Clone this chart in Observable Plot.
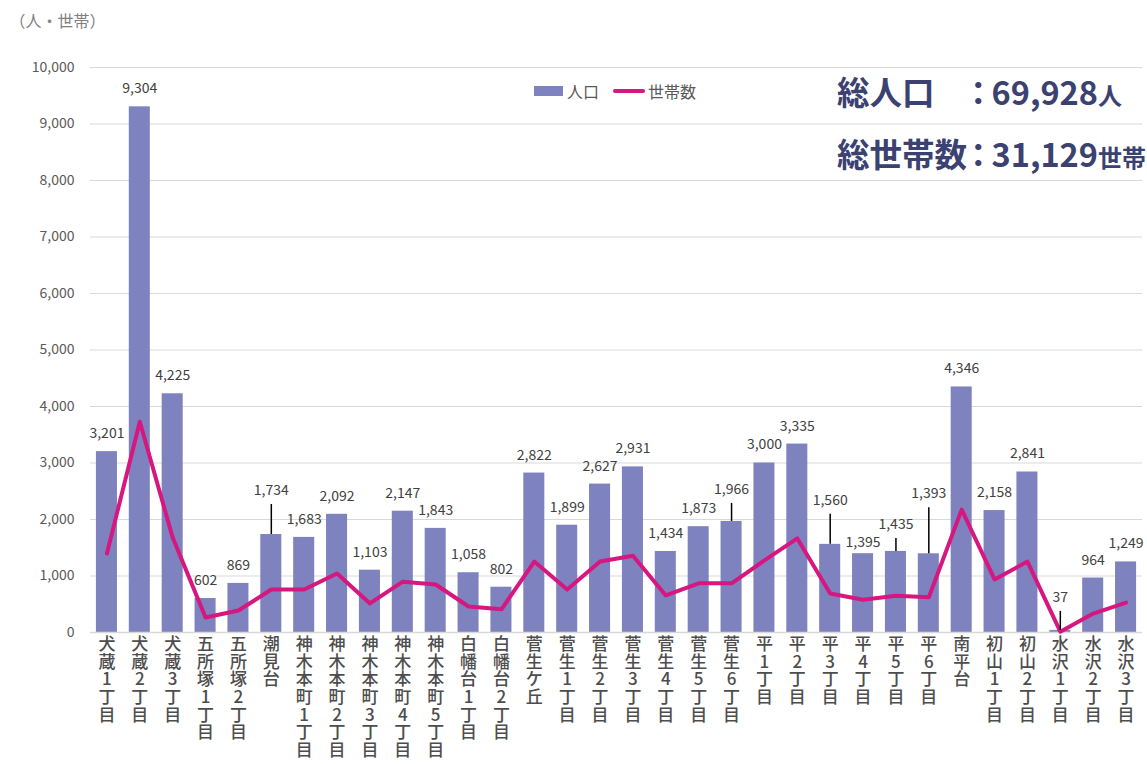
<!DOCTYPE html>
<html>
<head>
<meta charset="utf-8">
<script src="https://cdn.jsdelivr.net/npm/d3@7"></script>
<script src="https://cdn.jsdelivr.net/npm/@observablehq/plot@0.6"></script>
<style>
  html, body { margin: 0; padding: 0; background: #fff; }
  #wrap { position: relative; width: 1147px; height: 764px; overflow: hidden; font-family: "Noto Sans CJK JP", "Noto Sans", sans-serif; }
  #legend { position: absolute; left: 534px; top: 79px; display: flex; align-items: center; font-size: 16px; color: #595959; }
  #legend .sw { display: inline-block; }
  #totals { position: absolute; left: 837px; top: 62px; color: #3b4170; font-weight: bold; }
  #totals div { font-size: 32.5px; line-height: 58px; white-space: nowrap; }
  #totals small { font-size: 24px; }
  #totals .colon { display: inline-block; margin-left: -5px; margin-right: -3px; }
</style>
</head>
<body>
<div id="wrap">
  <div id="chart"></div>
  <div id="legend">
    <span class="sw" style="width:29px;height:10px;background:#7e83bf;margin-right:4px"></span><span>人口</span>
    <span class="sw" style="width:32px;height:4px;background:#d6177f;border-radius:2px;margin-left:14px;margin-right:3px"></span><span>世帯数</span>
  </div>
  <div id="totals">
    <div>総人口　<span class="colon">：</span>69,928<small>人</small></div>
    <div>総世帯数<span class="colon">：</span>31,129<small>世帯</small></div>
  </div>
</div>
<script>
const areas = ["犬蔵1丁目","犬蔵2丁目","犬蔵3丁目","五所塚1丁目","五所塚2丁目","潮見台","神木本町1丁目","神木本町2丁目","神木本町3丁目","神木本町4丁目","神木本町5丁目","白幡台1丁目","白幡台2丁目","菅生ケ丘","菅生1丁目","菅生2丁目","菅生3丁目","菅生4丁目","菅生5丁目","菅生6丁目","平1丁目","平2丁目","平3丁目","平4丁目","平5丁目","平6丁目","南平台","初山1丁目","初山2丁目","水沢1丁目","水沢2丁目","水沢3丁目"];
const population = [3201,9304,4225,602,869,1734,1683,2092,1103,2147,1843,1058,802,2822,1899,2627,2931,1434,1873,1966,3000,3335,1560,1395,1435,1393,4346,2158,2841,37,964,1249];
const households = [1400,3730,1680,265,390,760,760,1045,515,900,850,460,410,1255,760,1255,1360,655,870,870,1275,1665,690,580,650,625,2175,940,1255,15,335,530];
const yTicks = [0,1000,2000,3000,4000,5000,6000,7000,8000,9000,10000];

// label placement (pixels above bar top); labels with leader lines are lifted further
const defaultLift = 18;
const liftOverrides = {"潮見台":44, "菅生6丁目":32, "平3丁目":44, "平4丁目":11, "平5丁目":27, "平6丁目":60, "水沢1丁目":33};
const leaderAreas = ["潮見台","菅生6丁目","平3丁目","平5丁目","平6丁目","水沢1丁目"];

const rows = areas.map((a, i) => ({area: a, pop: population[i], hh: households[i], lift: liftOverrides[a] ?? defaultLift}));

const W = 1147, H = 764, marginTop = 67, marginBottom = 132, marginLeft = 90, marginRight = 5;
const unitsPerPx = 10000 / (H - marginTop - marginBottom);
const leaders = rows.filter(d => leaderAreas.includes(d.area)).map(d => ({area: d.area, y1: d.pop, y2: d.pop + (d.lift - 14) * unitsPerPx}));

const fmt = d3.format(",");
const chart = Plot.plot({
  width: W,
  height: H,
  marginTop, marginBottom, marginLeft, marginRight,
  style: {fontFamily: '"Noto Sans CJK JP", "Noto Sans", sans-serif', background: "transparent", overflow: "visible"},
  x: {type: "band", domain: areas, paddingInner: 0.36, paddingOuter: 0.18, align: 0.5, round: false},
  y: {domain: [0, 10000]},
  marks: [
    Plot.gridY(yTicks, {stroke: "#d9d9d9", strokeOpacity: 1, strokeWidth: 1.2}),
    Plot.axisY(yTicks, {tickSize: 0, tickPadding: 16, fontSize: 14, fill: "#595959", tickFormat: fmt, label: null}),
    Plot.barY(rows, {x: "area", y: "pop", fill: "#7e83bf"}),
    Plot.ruleY([0], {stroke: "#d9d9d9", strokeWidth: 1.5}),
    Plot.line(rows, {x: "area", y: "hh", stroke: "#d6177f", strokeWidth: 4, strokeLinejoin: "round"}),
    Plot.ruleX(leaders, {x: "area", y1: "y1", y2: "y2", stroke: "#000", strokeWidth: 1.5}),
    ...rows.map(d => Plot.text([d], {x: "area", y: "pop", text: r => fmt(r.pop), dy: -d.lift, fontSize: 14, fill: "#404040"})),
    Plot.axisX({tickSize: 0, tickPadding: 5, fontSize: 17, fill: "#4d4d4d", fontWeight: 500, lineHeight: 1.04, tickFormat: s => s.split("").join("\n"), label: null}),
    Plot.text(["（人・世帯）"], {frameAnchor: "top-left", dx: -81, dy: -52, fontSize: 16, fill: "#808080", textAnchor: "start"})
  ]
});
document.getElementById("chart").appendChild(chart);
</script>
</body>
</html>
